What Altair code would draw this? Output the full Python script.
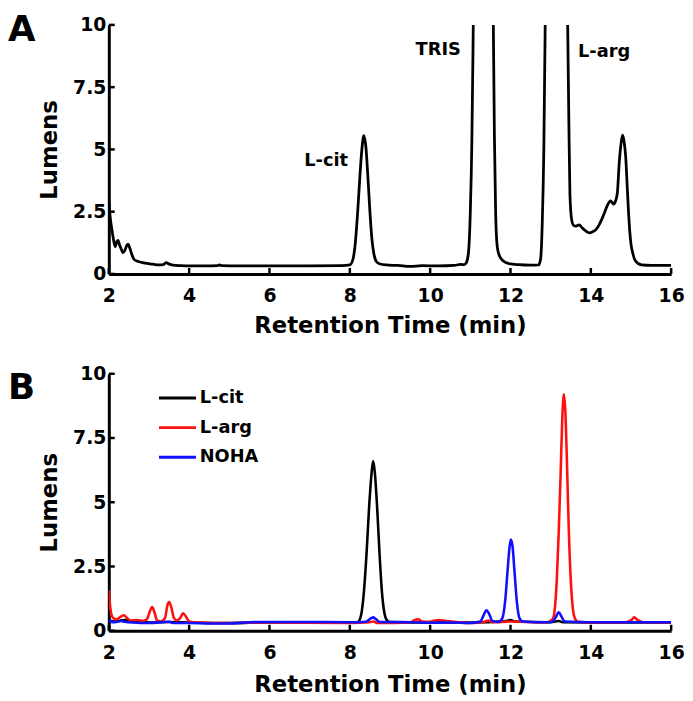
import altair as alt
import pandas as pd

FONT = "DejaVu Sans"

# ---------------- Panel A data ----------------
a_time = [2.00, 2.04, 2.08, 2.12, 2.16, 2.20, 2.23, 2.27, 2.31, 2.35, 2.40, 2.45, 2.48, 2.52,
          2.57, 2.62, 2.70, 2.80, 2.95, 3.10, 3.25, 3.35, 3.43, 3.50, 3.60, 3.80, 4.00, 4.40,
          4.70, 4.75, 4.82, 5.20, 6.00, 7.00, 7.80, 8.00, 8.08, 8.14, 8.20, 8.25, 8.30, 8.35,
          8.40, 8.45, 8.50, 8.55, 8.60, 8.66, 8.75, 8.90, 9.20, 9.50, 9.80, 10.20, 10.60,
          10.75, 10.85, 10.90, 10.95, 11.00, 11.04, 11.07, 11.10, 11.20, 11.35, 11.50, 11.57,
          11.60, 11.63, 11.67, 11.72, 11.80, 11.90, 12.00, 12.20, 12.50, 12.70, 12.75, 12.79,
          12.83, 12.87, 12.95, 13.20, 13.42, 13.45, 13.48, 13.52, 13.57, 13.63, 13.71, 13.79,
          13.88, 13.96, 14.05, 14.12, 14.20, 14.28, 14.35, 14.41, 14.49, 14.57, 14.62, 14.66,
          14.71, 14.75, 14.79, 14.83, 14.87, 14.90, 14.93, 14.97, 15.00, 15.05, 15.10, 15.26,
          15.50, 16.00]
a_lum = [2.90, 2.20, 1.75, 1.35, 1.10, 1.30, 1.35, 1.15, 1.00, 0.85, 0.95, 1.15, 1.20, 1.05,
         0.80, 0.60, 0.52, 0.47, 0.42, 0.39, 0.36, 0.37, 0.45, 0.40, 0.35, 0.33, 0.32, 0.32,
         0.33, 0.36, 0.33, 0.32, 0.32, 0.32, 0.33, 0.36, 0.60, 1.30, 2.60, 3.90, 5.00, 5.55,
         5.10, 3.90, 2.50, 1.40, 0.80, 0.50, 0.40, 0.36, 0.34, 0.30, 0.33, 0.32, 0.34,
         0.38, 0.37, 0.45, 0.80, 2.50, 5.50, 9.50, 14.0, 25.0, 30.0, 20.0, 10.5,
         5.50, 2.50, 1.10, 0.75, 0.55, 0.45, 0.40, 0.37, 0.35, 0.36, 0.60, 2.00,
         5.00, 11.0, 25.0, 30.0, 10.5, 6.50, 3.20, 2.20, 1.95, 1.92, 1.97, 1.84,
         1.72, 1.65, 1.70, 1.77, 1.95, 2.22, 2.50, 2.74, 2.93, 2.80, 2.95, 3.25,
         4.53, 5.20, 5.57, 5.30, 4.66, 3.70, 2.74, 1.70, 1.20, 0.80, 0.55, 0.36,
         0.34, 0.34]

a_label_text = ["L-cit", "TRIS", "L-arg"]
a_label_time = [7.41, 10.20, 14.33]
a_label_lum = [4.52, 8.99, 8.89]

# ---------------- Panel B data ----------------
cit_time = [2.00, 2.05, 2.15, 2.30, 2.40, 2.60, 2.80, 3.00, 3.50, 4.00, 5.00, 6.00, 7.00, 8.00,
            8.20, 8.28, 8.35, 8.42, 8.48, 8.54, 8.58, 8.62, 8.68, 8.74, 8.80, 8.86, 8.92, 9.00,
            10.00, 11.00, 11.90, 12.00, 12.10, 13.00, 13.20, 13.30, 14.00, 16.00]
cit_lum = [0.45, 0.38, 0.36, 0.40, 0.42, 0.36, 0.38, 0.32, 0.34, 0.32, 0.30, 0.33, 0.32, 0.32,
           0.34, 0.60, 1.50, 3.10, 4.80, 6.10, 6.60, 6.20, 4.80, 3.00, 1.50, 0.70, 0.42, 0.34,
           0.32, 0.32, 0.38, 0.42, 0.36, 0.33, 0.38, 0.33, 0.32, 0.32]

arg_time = [2.00, 2.03, 2.07, 2.12, 2.20, 2.30, 2.38, 2.45, 2.55, 2.70, 2.85, 2.95, 3.02, 3.08,
            3.14, 3.20, 3.30, 3.40, 3.46, 3.50, 3.55, 3.62, 3.70, 3.78, 3.85, 3.92, 4.00, 4.20,
            5.00, 6.00, 8.00, 8.50, 8.58, 8.70, 9.50, 9.62, 9.70, 9.80, 10.00, 10.20, 10.40,
            11.00, 11.35, 11.45, 11.55, 12.00, 12.90, 13.05, 13.10, 13.15, 13.20, 13.25, 13.29,
            13.33, 13.37, 13.41, 13.45, 13.50, 13.55, 13.60, 13.68, 14.00, 14.80, 15.00, 15.08,
            15.16, 15.30, 16.00]
arg_lum = [1.58, 1.00, 0.60, 0.48, 0.45, 0.55, 0.60, 0.50, 0.40, 0.42, 0.38, 0.45, 0.75, 0.92,
           0.70, 0.40, 0.36, 0.50, 1.00, 1.12, 0.95, 0.50, 0.40, 0.50, 0.68, 0.55, 0.36, 0.32,
           0.30, 0.32, 0.30, 0.33, 0.36, 0.30, 0.32, 0.42, 0.45, 0.36, 0.35, 0.42, 0.38,
           0.30, 0.35, 0.40, 0.33, 0.36, 0.32, 0.45, 0.80, 1.90, 3.80, 6.20, 8.30,
           9.20, 8.40, 6.30, 4.00, 2.00, 0.90, 0.50, 0.35, 0.32, 0.32, 0.40, 0.52,
           0.42, 0.33, 0.32]

noha_time = [2.00, 2.05, 2.15, 2.30, 2.40, 2.60, 3.00, 3.50, 3.60, 4.00, 4.50, 5.00, 5.50, 6.00,
             7.00, 8.00, 8.40, 8.52, 8.58, 8.65, 8.75, 9.50, 10.00, 10.50, 11.00, 11.25, 11.33,
             11.40, 11.47, 11.55, 11.70, 11.80, 11.87, 11.93, 11.98, 12.01, 12.05, 12.10, 12.16,
             12.22, 12.30, 12.70, 13.00, 13.12, 13.20, 13.27, 13.35, 14.00, 15.00, 16.00]
noha_lum = [0.42, 0.35, 0.33, 0.38, 0.35, 0.32, 0.30, 0.35, 0.30, 0.30, 0.28, 0.28, 0.33, 0.34,
            0.34, 0.33, 0.35, 0.48, 0.52, 0.45, 0.34, 0.33, 0.31, 0.32, 0.30, 0.36, 0.60,
            0.80, 0.65, 0.38, 0.34, 0.50, 1.20, 2.40, 3.30, 3.55, 3.30, 2.30, 1.10,
            0.50, 0.36, 0.33, 0.33, 0.50, 0.72, 0.55, 0.36, 0.33, 0.33, 0.33]

series_names = ["L-cit", "L-arg", "NOHA"]
series_colors = ["#000000", "#ff1010", "#1010ff"]

x_ticks = [2, 4, 6, 8, 10, 12, 14, 16]
y_ticks = [0, 2.5, 5, 7.5, 10]
panel_letters = ["A", "B"]

W = 569
H_A = 252
H_B = 260


def x_enc(tp):
    return alt.X("t:Q", scale=alt.Scale(domain=[2, 16], nice=False, zero=False),
                 axis=alt.Axis(values=x_ticks, format="d", title="Retention Time (min)",
                               labelFlush=False, labelPadding=13, titlePadding=tp))


def y_enc():
    return alt.Y("v:Q", scale=alt.Scale(domain=[0, 10], nice=False),
                 axis=alt.Axis(values=y_ticks, format=".1~f", title="Lumens",
                               labelPadding=3, titlePadding=11))


def tick_layers(h, tp):
    xt = alt.Chart(pd.DataFrame({"t": x_ticks})).mark_rule(color="black", strokeWidth=2.5).encode(
        x=x_enc(tp), y=alt.value(h), y2=alt.value(h - 6))
    yt = alt.Chart(pd.DataFrame({"v": y_ticks})).mark_rule(color="black", strokeWidth=2.5).encode(
        y=y_enc(), x=alt.value(0), x2=alt.value(6))
    return [xt, yt]


def letter_layer(letter, yoff):
    return alt.Chart(pd.DataFrame({"p": [letter]})).mark_text(
        font=FONT, fontWeight="bold", fontSize=36, align="left", baseline="top", color="black"
    ).encode(text="p:N", x=alt.value(-102), y=alt.value(yoff))


# Panel A
TPA = 9
dfA = pd.DataFrame({"t": a_time, "v": a_lum})
lineA = alt.Chart(dfA).mark_line(color="black", strokeWidth=2.8, clip=True,
                                 interpolate="monotone").encode(x=x_enc(TPA), y=y_enc())
labA = alt.Chart(pd.DataFrame({"t": a_label_time, "v": a_label_lum, "s": a_label_text})).mark_text(
    font=FONT, fontWeight="bold", fontSize=18, color="black", align="center", baseline="middle"
).encode(x=x_enc(TPA), y=y_enc(), text="s:N")
panelA = alt.layer(lineA, labA, *tick_layers(H_A, TPA),
                   letter_layer(panel_letters[0], -12)).properties(width=W, height=H_A)

# Panel B
TPB = 11
dfB = pd.concat([
    pd.DataFrame({"t": cit_time, "v": cit_lum, "series": series_names[0]}),
    pd.DataFrame({"t": arg_time, "v": arg_lum, "series": series_names[1]}),
    pd.DataFrame({"t": noha_time, "v": noha_lum, "series": series_names[2]}),
], ignore_index=True)
lineB = alt.Chart(dfB).mark_line(strokeWidth=2.6, clip=True, interpolate="monotone").encode(
    x=x_enc(TPB), y=y_enc(),
    color=alt.Color("series:N", sort=series_names,
                    scale=alt.Scale(domain=series_names, range=series_colors),
                    legend=alt.Legend(title=None, orient="none", legendX=49, legendY=357,
                                      symbolType="stroke", symbolSize=1400, symbolStrokeWidth=3,
                                      labelFont=FONT, labelFontWeight="bold", labelFontSize=18,
                                      labelColor="black", labelOffset=2, rowPadding=-9)),
)
panelB = alt.layer(lineB, *tick_layers(H_B, TPB),
                   letter_layer(panel_letters[1], -2)).properties(width=W, height=H_B)

chart = alt.vconcat(panelA, panelB, spacing=28).properties(padding=0).configure_view(
    stroke=None
).configure_axis(
    grid=False, ticks=False, domainColor="black", domainWidth=3,
    labelFont=FONT, labelFontWeight="bold", labelFontSize=19, labelColor="black",
    titleFont=FONT, titleFontWeight="bold", titleFontSize=23, titleColor="black",
)

chart.save("out.html", embed_options={"renderer": "svg", "actions": False})
